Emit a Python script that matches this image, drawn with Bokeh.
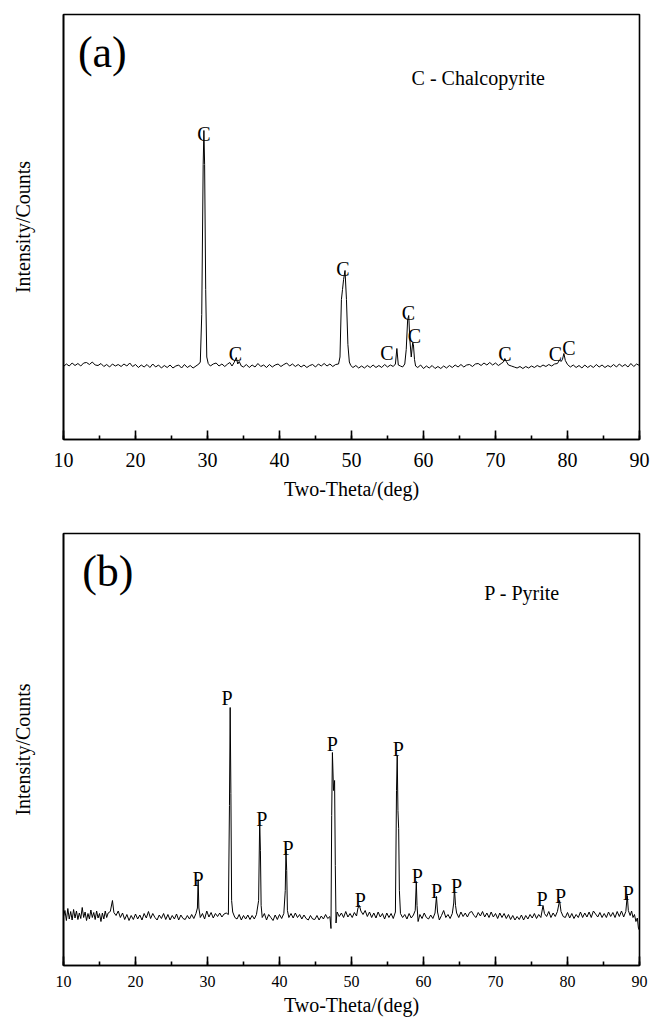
from bokeh.plotting import figure
from bokeh.layouts import column
from bokeh.models import Range1d, SingleIntervalTicker, FixedTicker, ColumnDataSource, Label
from bokeh.core.properties import value
from bokeh.embed import file_html
from bokeh.resources import INLINE

FONT = "Liberation Serif"

# ---------------- Panel (a): chalcopyrite pattern ----------------
two_theta_a = [10.0, 10.4, 10.8, 11.2, 11.6, 12.0, 12.4, 12.8, 13.2, 13.6, 14.0, 14.4, 14.8, 15.2, 15.6, 16.0,
               16.4, 16.8, 17.2, 17.6, 18.0, 18.4, 18.8, 19.2, 19.6, 20.0, 20.4, 20.8, 21.2, 21.6, 22.0, 22.4,
               22.8, 23.2, 23.6, 24.0, 24.4, 24.8, 25.2, 25.6, 26.0, 26.4, 26.8, 27.2, 27.6, 28.0, 28.4, 28.8,
               29.0, 29.2, 29.4, 29.5, 29.6, 29.75, 29.9, 30.1, 30.4, 30.8, 31.2, 31.6, 32.0, 32.4, 32.8, 33.1,
               33.4, 33.7, 34.0, 34.2, 34.4, 34.7, 35.0, 35.4, 35.8, 36.2, 36.6, 37.0, 37.4, 37.8, 38.2, 38.6,
               39.0, 39.4, 39.8, 40.2, 40.6, 41.0, 41.4, 41.8, 42.2, 42.6, 43.0, 43.4, 43.8, 44.2, 44.6, 45.0,
               45.4, 45.8, 46.2, 46.6, 47.0, 47.4, 47.8, 48.2, 48.4, 48.6, 48.75, 48.9, 49.1, 49.3, 49.5, 49.7,
               49.9, 50.2, 50.6, 51.0, 51.4, 51.8, 52.2, 52.6, 53.0, 53.4, 53.8, 54.2, 54.6, 55.0, 55.4, 55.8,
               56.1, 56.3, 56.5, 56.8, 57.1, 57.4, 57.6, 57.8, 57.95, 58.1, 58.3, 58.5, 58.6, 58.75, 58.9, 59.2,
               59.6, 60.0, 60.4, 60.8, 61.2, 61.6, 62.0, 62.4, 62.8, 63.2, 63.6, 64.0, 64.4, 64.8, 65.2, 65.6,
               66.0, 66.4, 66.8, 67.2, 67.6, 68.0, 68.4, 68.8, 69.2, 69.6, 70.0, 70.4, 70.8, 71.1, 71.3, 71.5,
               71.8, 72.2, 72.6, 73.0, 73.4, 73.8, 74.2, 74.6, 75.0, 75.4, 75.8, 76.2, 76.6, 77.0, 77.4, 77.8,
               78.2, 78.6, 78.9, 79.1, 79.3, 79.5, 79.7, 80.0, 80.4, 80.8, 81.2, 81.6, 82.0, 82.4, 82.8, 83.2,
               83.6, 84.0, 84.4, 84.8, 85.2, 85.6, 86.0, 86.4, 86.8, 87.2, 87.6, 88.0, 88.4, 88.8, 89.2, 89.6,
               90.0]
counts_a = [292, 302, 294, 306, 296, 304, 294, 306, 308, 300, 310, 298, 296, 304, 292, 300,
            290, 302, 294, 300, 292, 302, 294, 306, 292, 300, 288, 298, 290, 300, 288, 302,
            290, 298, 286, 296, 288, 298, 286, 294, 298, 286, 300, 288, 296, 286, 294, 302,
            310, 500, 1100, 1236, 1100, 600, 330, 304, 294, 302, 306, 294, 302, 292, 302, 308,
            294, 308, 328, 302, 312, 294, 290, 300, 288, 298, 290, 304, 292, 298, 288, 300,
            290, 298, 302, 292, 300, 306, 294, 302, 292, 300, 290, 298, 288, 296, 300, 290,
            302, 294, 304, 294, 302, 292, 300, 302, 330, 560, 600, 640, 676, 560, 380, 310,
            296, 288, 296, 286, 294, 286, 296, 288, 298, 288, 296, 288, 300, 290, 298, 292,
            302, 364, 298, 294, 290, 302, 360, 480, 496, 400, 330, 388, 380, 320, 294, 288,
            298, 284, 294, 286, 296, 284, 292, 284, 294, 286, 296, 288, 298, 290, 300, 290,
            298, 300, 292, 302, 304, 296, 306, 298, 308, 298, 306, 296, 304, 310, 324, 312,
            298, 294, 290, 286, 292, 284, 292, 286, 294, 288, 296, 290, 298, 292, 300, 294,
            302, 304, 318, 312, 320, 344, 316, 300, 290, 298, 288, 296, 286, 298, 288, 296,
            288, 300, 290, 298, 288, 296, 290, 300, 290, 302, 292, 300, 290, 304, 292, 302,
            296]

c_peak_x = [29.5, 34.0, 49.1, 56.3, 57.9, 58.6, 71.3, 79.0, 79.5]
c_peak_y = [1236, 328, 676, 364, 496, 388, 324, 324, 344]
c_labels = ["C"] * len(c_peak_x)

# ---------------- Panel (b): pyrite pattern ----------------
two_theta_b = [10.0, 10.2, 10.4, 10.6, 10.8, 11.0, 11.2, 11.4, 11.6, 11.8, 12.0, 12.2, 12.4, 12.6, 12.8, 13.0,
               13.2, 13.4, 13.6, 13.8, 14.0, 14.2, 14.4, 14.6, 14.8, 15.0, 15.2, 15.4, 15.6, 15.8, 16.0, 16.2,
               16.5, 16.8, 17.0, 17.3, 17.6, 17.9, 18.2, 18.5, 18.8, 19.1, 19.4, 19.7, 20.0, 20.3, 20.6, 20.9,
               21.2, 21.5, 21.8, 22.1, 22.4, 22.7, 23.0, 23.3, 23.6, 23.9, 24.2, 24.5, 24.8, 25.1, 25.4, 25.7,
               26.0, 26.3, 26.6, 26.9, 27.2, 27.5, 27.8, 28.1, 28.4, 28.6, 28.7, 28.8, 29.0, 29.3, 29.6, 29.9,
               30.2, 30.5, 30.8, 31.1, 31.4, 31.7, 32.0, 32.3, 32.6, 32.9, 33.05, 33.15, 33.25, 33.35, 33.5, 33.8,
               34.1, 34.4, 34.7, 35.0, 35.3, 35.6, 35.9, 36.2, 36.5, 36.8, 37.1, 37.25, 37.35, 37.45, 37.6, 37.9,
               38.2, 38.5, 38.8, 39.1, 39.4, 39.7, 40.0, 40.3, 40.6, 40.8, 40.9, 41.0, 41.1, 41.3, 41.6, 41.9,
               42.2, 42.5, 42.8, 43.1, 43.4, 43.7, 44.0, 44.3, 44.6, 44.9, 45.2, 45.5, 45.8, 46.1, 46.4, 46.7,
               47.0, 47.15, 47.25, 47.35, 47.5, 47.65, 47.75, 47.85, 48.0, 48.3, 48.6, 48.9, 49.2, 49.5, 49.8, 50.1,
               50.4, 50.7, 50.9, 51.1, 51.3, 51.6, 51.9, 52.2, 52.5, 52.8, 53.1, 53.4, 53.7, 54.0, 54.3, 54.6,
               54.9, 55.2, 55.5, 55.8, 56.1, 56.25, 56.35, 56.45, 56.55, 56.65, 56.8, 57.1, 57.4, 57.7, 58.0, 58.3,
               58.6, 58.85, 59.0, 59.1, 59.25, 59.5, 59.8, 60.1, 60.4, 60.7, 61.0, 61.3, 61.6, 61.8, 61.95, 62.2,
               62.5, 62.8, 63.1, 63.4, 63.7, 64.0, 64.2, 64.3, 64.45, 64.6, 64.9, 65.2, 65.5, 65.8, 66.1, 66.4,
               66.7, 67.0, 67.3, 67.6, 67.9, 68.2, 68.5, 68.8, 69.1, 69.4, 69.7, 70.0, 70.3, 70.6, 70.9, 71.2,
               71.5, 71.8, 72.1, 72.4, 72.7, 73.0, 73.3, 73.6, 73.9, 74.2, 74.5, 74.8, 75.1, 75.4, 75.7, 76.0,
               76.3, 76.6, 76.8, 77.1, 77.4, 77.7, 78.0, 78.3, 78.6, 78.9, 79.1, 79.4, 79.7, 80.0, 80.3, 80.6,
               80.9, 81.2, 81.5, 81.8, 82.1, 82.4, 82.7, 83.0, 83.3, 83.6, 83.9, 84.2, 84.5, 84.8, 85.1, 85.4,
               85.7, 86.0, 86.3, 86.6, 86.9, 87.2, 87.5, 87.8, 88.1, 88.3, 88.45, 88.7, 88.9, 89.1, 89.3, 89.5,
               89.7, 89.85, 90.0]
counts_b = [196, 220, 180, 228, 186, 216, 182, 224, 190, 218, 184, 210, 188, 232, 192, 214,
            180, 208, 186, 222, 192, 212, 184, 218, 190, 208, 176, 210, 186, 218, 192, 210,
            216, 260, 212, 200, 218, 192, 210, 184, 204, 180, 200, 184, 206, 186, 202, 182,
            208, 190, 216, 188, 208, 192, 182, 202, 188, 208, 184, 204, 182, 200, 186, 206,
            182, 202, 188, 184, 200, 186, 204, 188, 208, 230, 344, 230, 192, 208, 186, 218,
            194, 212, 190, 208, 196, 210, 194, 206, 210, 204, 640, 1032, 688, 260, 214, 192,
            186, 204, 182, 200, 186, 202, 184, 200, 186, 204, 260, 580, 460, 240, 192, 208,
            182, 204, 192, 180, 202, 184, 204, 188, 208, 300, 460, 380, 220, 192, 208, 190,
            210, 192, 204, 186, 202, 188, 182, 200, 186, 184, 200, 182, 198, 186, 204, 188,
            196, 148, 600, 852, 700, 740, 400, 170, 214, 196, 210, 192, 216, 194, 208, 192,
            212, 198, 230, 240, 218, 204, 220, 196, 214, 192, 210, 190, 214, 194, 208, 186,
            210, 192, 208, 188, 214, 700, 840, 620, 548, 300, 208, 192, 204, 186, 208, 190,
            202, 220, 336, 240, 176, 204, 188, 210, 192, 186, 202, 188, 210, 276, 214, 182,
            200, 220, 192, 204, 188, 208, 250, 308, 240, 210, 192, 214, 196, 210, 194, 212,
            216, 200, 192, 212, 198, 216, 194, 210, 192, 214, 194, 208, 188, 210, 192, 208,
            188, 204, 184, 200, 182, 196, 184, 202, 182, 200, 186, 204, 190, 208, 188, 204,
            192, 240, 208, 196, 216, 192, 210, 196, 216, 260, 216, 196, 192, 212, 190, 208,
            188, 204, 192, 214, 192, 210, 194, 214, 192, 218, 206, 194, 212, 192, 208, 192,
            214, 196, 212, 192, 216, 196, 218, 194, 216, 280, 220, 200, 218, 192, 204, 176,
            190, 150, 140]

p_peak_x = [28.7, 33.15, 37.25, 40.9, 47.35, 51.1, 56.35, 59.0, 61.8, 64.3, 76.6, 78.9, 88.3]
p_peak_y = [344, 1032, 580, 460, 852, 240, 840, 336, 276, 308, 240, 260, 280]
p_labels = ["P"] * len(p_peak_x)

x_ticks_major = 10
x_title = "Two-Theta/(deg)"
y_title = "Intensity/Counts"


def make_panel(width, height, borders, y_max, tick_font, tick_standoff, label_font, label_standoff):
    left, right, top, bottom = borders
    p = figure(width=width, height=height, output_backend="svg", toolbar_location=None,
               x_range=Range1d(10, 90), y_range=Range1d(0, y_max),
               min_border_left=left, min_border_right=right,
               min_border_top=top, min_border_bottom=bottom)
    p.grid.visible = False
    p.outline_line_color = "black"
    p.outline_line_width = 1.6
    p.background_fill_color = "white"
    p.border_fill_color = "white"

    xa = p.xaxis[0]
    xa.ticker = SingleIntervalTicker(interval=x_ticks_major, num_minor_ticks=2)
    xa.major_tick_in = 9
    xa.major_tick_out = 0
    xa.minor_tick_in = 4
    xa.minor_tick_out = 0
    xa.major_tick_line_width = 1.6
    xa.minor_tick_line_width = 1.6
    xa.axis_line_width = 1.6
    xa.major_label_text_font = FONT
    xa.major_label_text_font_size = tick_font
    xa.major_label_text_color = "black"
    xa.major_label_standoff = tick_standoff
    xa.axis_label = x_title
    xa.axis_label_text_font = FONT
    xa.axis_label_text_font_style = "normal"
    xa.axis_label_text_font_size = label_font
    xa.axis_label_text_color = "black"
    xa.axis_label_standoff = label_standoff

    ya = p.yaxis[0]
    ya.ticker = FixedTicker(ticks=[])
    ya.axis_line_width = 1.6
    ya.axis_label = y_title
    ya.axis_label_text_font = FONT
    ya.axis_label_text_font_style = "normal"
    ya.axis_label_text_font_size = "20px"
    ya.axis_label_text_color = "black"
    ya.axis_label_standoff = 30
    return p


# Panel (a)
pa = make_panel(651, 520, (63, 12, 14, 81), 1700, "20px", 13, "20px", 8)
pa.line(two_theta_a, counts_a, line_color="black", line_width=1.0)
src_a = ColumnDataSource(dict(x=c_peak_x, y=c_peak_y, text=c_labels,
                              dx=[0, -1, -2, -10, 0, 1, 0, -5, 5],
                              dy=[3, -4, -2, 4, -3, -7, -5, -5, -6]))
pa.text(x="x", y="y", text="text", source=src_a, x_offset="dx", y_offset="dy",
        text_font=value(FONT), text_font_size=value("20px"), text_align="center",
        text_baseline="alphabetic", text_color="black")
pa.add_layout(Label(x=12.0, y=1548, text="(a)", text_font=FONT, text_font_size="44px",
                    text_align="left", text_baseline="middle", text_color="black"))
pa.add_layout(Label(x=67.6, y=1448, text="C - Chalcopyrite", text_font=FONT, text_font_size="20px",
                    text_align="center", text_baseline="middle", text_color="black"))

# Panel (b)
pb = make_panel(651, 498, (56, 9, 13, 53), 1728, "16px", 10, "20px", 4)
pb.line(two_theta_b, counts_b, line_color="black", line_width=1.0)
src_b = ColumnDataSource(dict(x=p_peak_x, y=p_peak_y, text=p_labels,
                              dx=[0, -3, 2, 2, 0, 1, 1, 1, 0, 2, -1, 1, 1],
                              dy=[-1, -10, -2, -3, -9, -6, -7, -6, -6, -3, -7, -5, -3]))
pb.text(x="x", y="y", text="text", source=src_b, x_offset="dx", y_offset="dy",
        text_font=value(FONT), text_font_size=value("20px"), text_align="center",
        text_baseline="alphabetic", text_color="black")
pb.add_layout(Label(x=12.6, y=1576, text="(b)", text_font=FONT, text_font_size="44px",
                    text_align="left", text_baseline="middle", text_color="black"))
pb.add_layout(Label(x=73.7, y=1492, text="P - Pyrite", text_font=FONT, text_font_size="20px",
                    text_align="center", text_baseline="middle", text_color="black"))

layout = column(pa, pb, spacing=0)
open("out.html", "w").write(file_html(layout, INLINE))
